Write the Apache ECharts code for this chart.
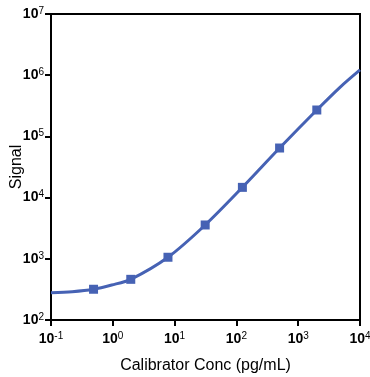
<!DOCTYPE html>
<html>
<head>
<meta charset="utf-8">
<script src="https://cdn.jsdelivr.net/npm/echarts@6/dist/echarts.min.js"></script>
<style>
html,body{margin:0;padding:0;background:#fff;}
#c{width:370px;height:377px;}
</style>
</head>
<body>
<div id="c"></div>
<script>
// Calibrator points (pg/mL) and measured signal
var conc = [0.488, 1.953, 7.81, 31.25, 125, 500, 2000];
var signal = [318, 462, 1060, 3570, 14700, 64600, 270000];
// Fitted curve
var curveX = [0.1, 0.22, 0.488, 0.96, 1.953, 7.81, 31.25, 125, 500, 2000, 4740, 10000];
var curveY = [279, 290, 318, 373, 462, 1060, 3570, 14700, 64600, 270000, 634000, 1220000];
var xTicks = [0.1, 1, 10, 100, 1000, 10000];
var yTicks = [100, 1000, 10000, 100000, 1000000, 10000000];

var blue = '#4662B4';
function pow10Label(v) {
  var e = Math.round(Math.log10(v));
  return '{b|10}{s|' + e + '}';
}
var rich = {
  b: {fontSize: 14, fontWeight: 'bold', color: '#000', fontFamily: 'Liberation Sans, Arial, sans-serif', lineHeight: 16},
  s: {fontSize: 10, color: '#000', fontFamily: 'Liberation Sans, Arial, sans-serif', verticalAlign: 'top', lineHeight: 10}
};

var chart = echarts.init(document.getElementById('c'), null, {renderer: 'canvas'});
chart.setOption({
  backgroundColor: '#fff',
  animation: false,
  grid: {left: 51, right: 10, top: 14, bottom: 57, show: true, borderColor: '#000', borderWidth: 2,
         backgroundColor: 'transparent', containLabel: false, outerBoundsMode: 'none'},
  xAxis: {
    type: 'log', logBase: 10, min: xTicks[0], max: xTicks[xTicks.length - 1],
    name: 'Calibrator Conc (pg/mL)', nameLocation: 'middle', nameGap: 38, nameMoveOverlap: false,
    nameTextStyle: {fontSize: 16, color: '#000', fontFamily: 'Liberation Sans, Arial, sans-serif'},
    axisLine: {lineStyle: {color: '#000', width: 2}},
    axisTick: {show: true, length: 6, lineStyle: {color: '#000', width: 2}},
    axisLabel: {margin: 11, formatter: pow10Label, rich: rich, showMinLabel: true, showMaxLabel: true, hideOverlap: false},
    splitLine: {show: false}, minorTick: {show: false}
  },
  yAxis: {
    type: 'log', logBase: 10, min: yTicks[0], max: yTicks[yTicks.length - 1],
    name: 'Signal', nameLocation: 'middle', nameGap: 26, nameRotate: 90, nameMoveOverlap: false,
    nameTextStyle: {fontSize: 16, color: '#000', fontFamily: 'Liberation Sans, Arial, sans-serif'},
    axisLine: {lineStyle: {color: '#000', width: 2}},
    axisTick: {show: true, length: 6, lineStyle: {color: '#000', width: 2}},
    axisLabel: {margin: 7, formatter: pow10Label, rich: rich, showMinLabel: true, showMaxLabel: true, hideOverlap: false},
    splitLine: {show: false}, minorTick: {show: false}
  },
  series: [
    {
      type: 'line', name: 'fit', smooth: 0.3, showSymbol: false, symbol: 'none',
      data: curveX.map(function (x, i) { return [x, curveY[i]]; }),
      lineStyle: {color: blue, width: 3}, z: 2
    },
    {
      type: 'scatter', name: 'points', symbol: 'rect', symbolSize: 9,
      data: conc.map(function (x, i) { return [x, signal[i]]; }),
      itemStyle: {color: blue, opacity: 1}, z: 3
    }
  ]
});
</script>
</body>
</html>
